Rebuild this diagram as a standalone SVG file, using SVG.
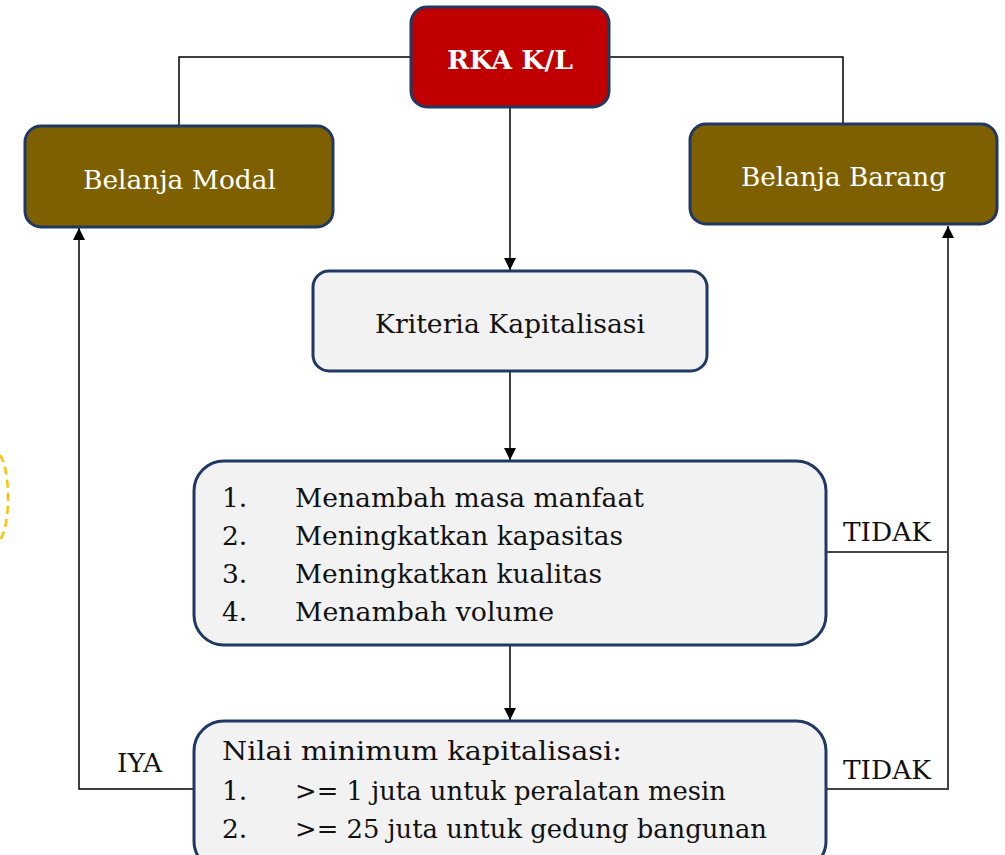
<svg xmlns="http://www.w3.org/2000/svg" width="1005" height="855" viewBox="0 0 1005 855">
<defs>
<marker id="arr" viewBox="0 0 10 10" refX="10" refY="5" markerWidth="14" markerHeight="12" markerUnits="userSpaceOnUse" orient="auto">
<path d="M0,0 L10,5 L0,10 z" fill="#000"/>
</marker>
<style>
.box{stroke:#1F3864;stroke-width:3}
.red{fill:#C00000}
.brown{fill:#7F6000}
.grey{fill:#F2F2F2}
text{font-family:"DejaVu Serif","Liberation Serif",serif;font-size:26.5px}
.w{fill:#fff}
.k{fill:#111}
.con{fill:none;stroke:#000;stroke-width:1.5}
.gcon{fill:none;stroke:#444;stroke-width:2}
</style>
</defs>
<rect width="1005" height="855" fill="#fff"/>
<path d="M0,455 A12,45 0 0 1 0,540" fill="none" stroke="#FFC000" stroke-width="2.5" stroke-dasharray="8,5"/>
<g id="connectors">
<polyline class="con" points="411,57 179,57 179,126"/>
<polyline class="con" points="609,57 843,57 843,124"/>
<line class="con" x1="510" y1="107" x2="510" y2="270" marker-end="url(#arr)"/>
<line class="con" x1="510" y1="371" x2="510" y2="460" marker-end="url(#arr)"/>
<line class="con" x1="510" y1="645" x2="510" y2="720" marker-end="url(#arr)"/>
<polyline class="con" points="194,789 79,789 79,228" marker-end="url(#arr)"/>
<line class="gcon" x1="826" y1="552" x2="948" y2="552"/>
<polyline class="gcon" points="826,789 948,789 948,226" marker-end="url(#arr)"/>
<text class="k" x="843" y="541" font-size="25" textLength="88" lengthAdjust="spacingAndGlyphs">TIDAK</text>
<text class="k" x="843" y="779" font-size="25" textLength="88" lengthAdjust="spacingAndGlyphs">TIDAK</text>
<text class="k" x="117" y="772" font-size="25" textLength="45" lengthAdjust="spacingAndGlyphs">IYA</text>
</g>
<g id="rka">
<rect class="box red" x="411" y="7" width="198" height="100" rx="16"/>
<text class="w" x="447" y="69" font-weight="bold" font-size="27.5" textLength="126" lengthAdjust="spacingAndGlyphs">RKA K/L</text>
</g>
<g id="belanja-modal">
<rect class="box brown" x="25" y="126" width="308" height="101" rx="16"/>
<text class="w" x="83" y="189" textLength="193" lengthAdjust="spacingAndGlyphs">Belanja Modal</text>
</g>
<g id="belanja-barang">
<rect class="box brown" x="690" y="124" width="307" height="100" rx="16"/>
<text class="w" x="741" y="186" textLength="205" lengthAdjust="spacingAndGlyphs">Belanja Barang</text>
</g>
<g id="kriteria">
<rect class="box grey" x="313" y="271" width="394" height="100" rx="16"/>
<text class="k" x="375" y="333" textLength="270" lengthAdjust="spacingAndGlyphs">Kriteria Kapitalisasi</text>
</g>
<g id="list">
<rect class="box grey" x="194" y="461" width="632" height="184" rx="30"/>
<text class="k" x="222" y="507">1.</text><text class="k" x="295" y="507" textLength="349" lengthAdjust="spacingAndGlyphs">Menambah masa manfaat</text>
<text class="k" x="222" y="545">2.</text><text class="k" x="295" y="545" textLength="328" lengthAdjust="spacingAndGlyphs">Meningkatkan kapasitas</text>
<text class="k" x="222" y="583">3.</text><text class="k" x="295" y="583" textLength="307" lengthAdjust="spacingAndGlyphs">Meningkatkan kualitas</text>
<text class="k" x="222" y="621">4.</text><text class="k" x="295" y="621" textLength="259" lengthAdjust="spacingAndGlyphs">Menambah volume</text>
</g>
<g id="nilai">
<rect class="box grey" x="194" y="721" width="632" height="150" rx="30"/>
<text class="k" x="222" y="760" textLength="400" lengthAdjust="spacingAndGlyphs">Nilai minimum kapitalisasi:</text>
<text class="k" x="222" y="800">1.</text><text class="k" x="295" y="800" textLength="431" lengthAdjust="spacingAndGlyphs">&gt;= 1 juta untuk peralatan mesin</text>
<text class="k" x="222" y="838">2.</text><text class="k" x="295" y="838" textLength="472" lengthAdjust="spacingAndGlyphs">&gt;= 25 juta untuk gedung bangunan</text>
</g>
</svg>
